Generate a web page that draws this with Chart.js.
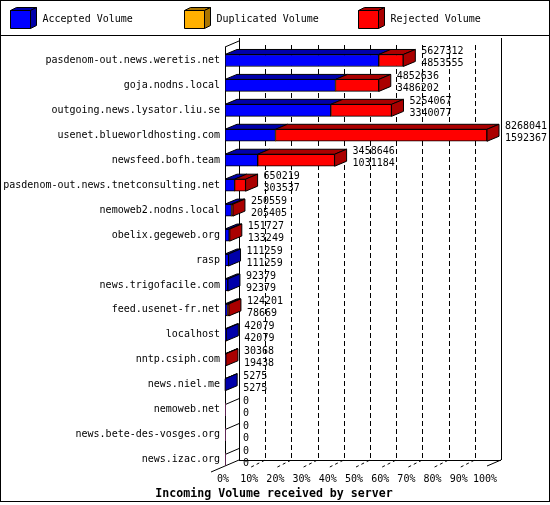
<!DOCTYPE html>
<html>
<head>
<meta charset="utf-8">
<title>Incoming Volume received by server</title>
<script src="https://cdn.jsdelivr.net/npm/chart.js@4.4.1/dist/chart.umd.min.js"></script>
<style>
  body { margin: 0; background: #fff; }
  canvas { display: block; }
</style>
</head>
<body>
<canvas id="volumeChart" width="550" height="505"></canvas>
<script>
const servers = [
    'pasdenom-out.news.weretis.net',
    'goja.nodns.local',
    'outgoing.news.lysator.liu.se',
    'usenet.blueworldhosting.com',
    'newsfeed.bofh.team',
    'pasdenom-out.news.tnetconsulting.net',
    'nemoweb2.nodns.local',
    'obelix.gegeweb.org',
    'rasp',
    'news.trigofacile.com',
    'feed.usenet-fr.net',
    'localhost',
    'nntp.csiph.com',
    'news.niel.me',
    'nemoweb.net',
    'news.bete-des-vosges.org',
    'news.izac.org'
];
// total incoming volume and accepted volume per server
const totalVolume = [5627312, 4852636, 5254067, 8268041, 3458646, 650219, 250559, 151727, 111259, 92379, 124201, 42079, 30368, 5275, 0, 0, 0];
const acceptedVolume = [4853555, 3486202, 3340077, 1592367, 1031184, 303537, 205405, 133249, 111259, 92379, 78669, 42079, 19438, 5275, 0, 0, 0];
const duplicatedVolume = [0, 0, 0, 0, 0, 0, 0, 0, 0, 0, 0, 0, 0, 0, 0, 0, 0];
const percentTicks = [0, 10, 20, 30, 40, 50, 60, 70, 80, 90, 100];

const maxVolume = Math.max(...totalVolume);
const toPercent = v => v / maxVolume * 100;

const acceptedPct = acceptedVolume.map(toPercent);
const duplicatedPct = duplicatedVolume.map(toPercent);
const rejectedPct = totalVolume.map((t, i) => toPercent(t - acceptedVolume[i] - duplicatedVolume[i]));

const mono = '"DejaVu Sans Mono", monospace';
const DX = 14, DY = 6;     // depth of walls
const BDX = 12, BDY = 5;   // depth of bars

function line(ctx, x1, y1, x2, y2) {
    ctx.beginPath();
    ctx.moveTo(x1, y1);
    ctx.lineTo(x2, y2);
    ctx.stroke();
}

function face(ctx, pts, fill) {
    ctx.beginPath();
    ctx.moveTo(pts[0][0], pts[0][1]);
    for (let k = 1; k < pts.length; k++) ctx.lineTo(pts[k][0], pts[k][1]);
    ctx.closePath();
    ctx.fillStyle = fill;
    ctx.fill();
    ctx.stroke();
}

const frame3d = {
    id: 'frame3d',
    beforeDraw(chart) {
        const ctx = chart.ctx;
        ctx.save();
        ctx.fillStyle = '#fff';
        ctx.fillRect(0, 0, chart.width, chart.height);
        ctx.strokeStyle = '#000';
        ctx.lineWidth = 1;
        ctx.strokeRect(0.5, 0.5, 549, 501);
        line(ctx, 0, 35.5, 550, 35.5);

        // legend with little 3d boxes
        chart.data.datasets.forEach((d, k) => {
            const x = 10.5 + k * 174, y = 10.5;
            face(ctx, [[x, y], [x + 20, y], [x + 26, y - 3], [x + 6, y - 3]], d.sideColor);
            face(ctx, [[x + 20, y], [x + 26, y - 3], [x + 26, y + 15], [x + 20, y + 18]], d.sideColor);
            face(ctx, [[x, y], [x + 20, y], [x + 20, y + 18], [x, y + 18]], d.backgroundColor);
            ctx.fillStyle = '#000';
            ctx.font = '10px ' + mono;
            ctx.textBaseline = 'middle';
            ctx.textAlign = 'left';
            ctx.fillText(d.label, x + 32, y + 9);
        });

        ctx.font = 'bold 11.6px ' + mono;
        ctx.textAlign = 'center';
        ctx.textBaseline = 'alphabetic';
        ctx.fillText('Incoming Volume received by server', 274, 497);
        ctx.restore();
    },
    beforeDatasetsDraw(chart) {
        const ctx = chart.ctx;
        const ca = chart.chartArea;
        const xs = chart.scales.x, ys = chart.scales.y;
        const L = ca.left, R = ca.right, fy = ca.bottom - 6;
        ctx.save();
        ctx.strokeStyle = '#000';
        ctx.lineWidth = 1;

        ctx.setLineDash([5, 3]);
        percentTicks.slice(1, -1).forEach(v => {
            const x = Math.round(xs.getPixelForValue(v) + DX) + 0.5;
            line(ctx, x, 45, x, fy - DY);
        });
        ctx.setLineDash([3, 3]);
        percentTicks.slice(1, -1).forEach(v => {
            const x = xs.getPixelForValue(v);
            line(ctx, x, fy + 1, x + DX, fy - DY);
        });
        ctx.setLineDash([]);

        line(ctx, L + DX + 0.5, 38, L + DX + 0.5, fy - DY);
        line(ctx, R + DX + 0.5, 38, R + DX + 0.5, fy - DY);
        line(ctx, L + DX, fy - DY + 0.5, R + DX, fy - DY + 0.5);
        line(ctx, R, fy, R + DX, fy - DY);
        line(ctx, L - DX, fy + DY, L + DX, fy - DY);
        line(ctx, L + 0.5, ca.top - 1, L + 0.5, fy);
        line(ctx, L, ca.top - 1, L + DX, ca.top - 1 - DY);

        // empty rows still show the edge of the bar
        totalVolume.forEach((t, i) => {
            if (t > 0) return;
            const c = ys.getPixelForValue(i);
            line(ctx, L, c - 5, L + DX, c - 5 - DY);
        });
        ctx.restore();
    },
    afterDatasetsDraw(chart) {
        const ctx = chart.ctx;
        const metas = chart.data.datasets.map((d, di) => chart.getDatasetMeta(di));
        ctx.save();
        ctx.strokeStyle = '#000';
        ctx.lineWidth = 1;
        servers.forEach((s, i) => {
            let last = -1;
            let xEnd = chart.chartArea.left;
            metas.forEach((m, di) => {
                if (chart.data.datasets[di].data[i] > 0) last = di;
                xEnd = Math.max(xEnd, m.data[i].x);
            });
            metas.forEach((m, di) => {
                if (!(chart.data.datasets[di].data[i] > 0)) return;
                const el = m.data[i];
                const top = el.y - el.height / 2, bot = el.y + el.height / 2;
                const dark = chart.data.datasets[di].sideColor;
                face(ctx, [[el.base, top], [el.x, top], [el.x + BDX, top - BDY], [el.base + BDX, top - BDY]], dark);
                if (di === last) {
                    face(ctx, [[el.x, top], [el.x + BDX, top - BDY], [el.x + BDX, bot - BDY], [el.x, bot]], dark);
                }
            });
            const c = metas[0].data[i].y;
            ctx.fillStyle = '#000';
            ctx.font = '10px ' + mono;
            ctx.textAlign = 'left';
            ctx.textBaseline = 'alphabetic';
            ctx.fillText(String(totalVolume[i]), xEnd + 18, c - 6);
            ctx.fillText(String(acceptedVolume[i]), xEnd + 18, c + 6);
        });
        ctx.restore();
    }
};

const ctx = document.getElementById('volumeChart').getContext('2d');
new Chart(ctx, {
    type: 'bar',
    data: {
        labels: servers,
        datasets: [
            {
                label: 'Accepted Volume',
                data: acceptedPct,
                backgroundColor: '#0000ff',
                sideColor: '#0000aa',
                borderColor: '#000',
                borderWidth: c => (c.raw > 0 ? 1 : 0),
                borderSkipped: false
            },
            {
                label: 'Duplicated Volume',
                data: duplicatedPct,
                backgroundColor: '#ffb000',
                sideColor: '#aa7500',
                borderColor: '#000',
                borderWidth: c => (c.raw > 0 ? 1 : 0),
                borderSkipped: false
            },
            {
                label: 'Rejected Volume',
                data: rejectedPct,
                backgroundColor: '#ff0000',
                sideColor: '#aa0000',
                borderColor: '#000',
                borderWidth: c => (c.raw > 0 ? 1 : 0),
                borderSkipped: false
            }
        ]
    },
    options: {
        indexAxis: 'y',
        responsive: false,
        animation: false,
        barThickness: 12,
        layout: { padding: { left: 0, right: 63, top: 48, bottom: 19 } },
        plugins: {
            legend: { display: false },
            tooltip: { enabled: false }
        },
        scales: {
            x: {
                stacked: true,
                min: 0,
                max: 100,
                afterFit: scale => { scale.height = 14; },
                afterBuildTicks: scale => { scale.ticks = percentTicks.map(v => ({ value: v })); },
                grid: { display: false, drawTicks: false },
                border: { display: false },
                ticks: {
                    color: '#000',
                    font: { family: mono, size: 10 },
                    padding: 1,
                    labelOffset: -2,
                    maxRotation: 0,
                    autoSkip: false,
                    callback: v => v + '%'
                }
            },
            y: {
                stacked: true,
                afterFit: scale => { scale.width = 225; },
                grid: { display: false, drawTicks: false },
                border: { display: false },
                ticks: {
                    color: '#000',
                    font: { family: mono, size: 10 },
                    padding: 5,
                    autoSkip: false
                }
            }
        }
    },
    plugins: [frame3d]
});
</script>
</body>
</html>
